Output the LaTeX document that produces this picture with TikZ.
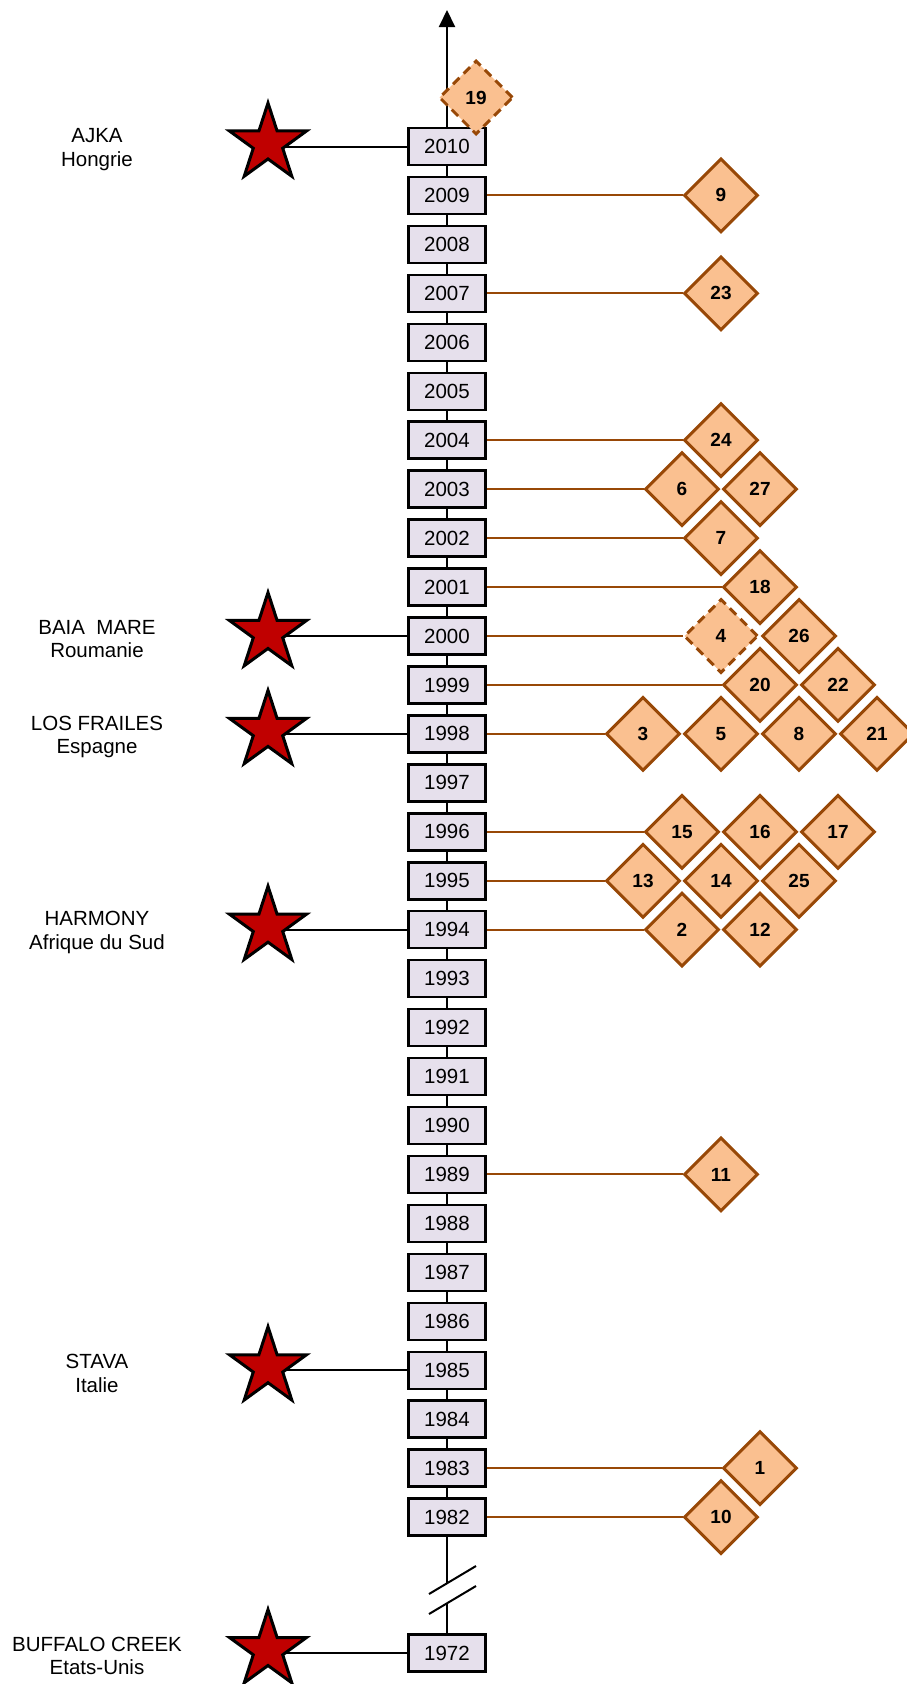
\documentclass[tikz,border=0pt]{standalone}
\usepackage{fontspec}
\setmainfont{Liberation Sans}
\usepackage{tikz}
\usetikzlibrary{shapes.geometric,arrows.meta,positioning,calc,backgrounds}
\definecolor{SoftLilac}{HTML}{E6E0EC}
\definecolor{StarRed}{HTML}{C00000}
\definecolor{SoftOrange}{HTML}{FAC090}
\definecolor{DarkOrange}{HTML}{984807}
\tikzset{
  % Year box
  YB/.style={rectangle,draw=black,line width=2.5pt,fill=SoftLilac,
             minimum width=77pt,minimum height=37pt,inner sep=0pt,
             font=\fontsize{20.5}{24}\selectfont},
  % Case diamond
  CD/.style={diamond,aspect=1,draw=DarkOrange,line width=3pt,fill=SoftOrange,
             minimum width=74pt,minimum height=74pt,inner sep=0pt,
             font=\fontsize{19}{22}\selectfont\bfseries},
  CDd/.style={CD,dash pattern=on 9pt off 6pt},
  % Star
  ST/.style={star,star points=5,star point ratio=2.618,draw=black,line width=3pt,
             fill=StarRed,minimum size=81pt,inner sep=0pt},
  % Place label
  LB/.style={align=center,font=\fontsize{20.5}{23.5}\selectfont},
  % Lines
  ax/.style={line width=2pt,black},
  arr/.style={ax,-{Triangle[length=17pt,width=16pt]}},
  lnK/.style={line width=2pt,black},
  lnB/.style={line width=2pt,DarkOrange}
}

\begin{document}
\begin{tikzpicture}[x=1pt,y=-1pt]
  \useasboundingbox (0,0) rectangle (906,1684);

  % years
  \foreach \yr in {1982,...,2010}
    \node[YB] (y\yr) at (447,{146.5+(2010-\yr)*48.95}) {\yr};
  \node[YB] (y1972) at (447,1653) {1972};

  \coordinate (top)  at (447,10);
  \coordinate (brkA) at (447,1583);
  \coordinate (brkB) at (447,1603);
  \coordinate (sc)   at (268,0);
  \coordinate (lc)   at (97,0);
  \foreach \k in {0,...,6}
    \coordinate (c\k) at ({643+39*\k},0);

  % cases
  \node[CDd] (n19) at (476,97.5)      {19};
  \node[CD]  (n9)  at (c2 |- y2009)   {9};
  \node[CD]  (n23) at (c2 |- y2007)   {23};
  \node[CD]  (n24) at (c2 |- y2004)   {24};
  \node[CD]  (n6)  at (c1 |- y2003)   {6};
  \node[CD]  (n27) at (c3 |- y2003)   {27};
  \node[CD]  (n7)  at (c2 |- y2002)   {7};
  \node[CD]  (n18) at (c3 |- y2001)   {18};
  \node[CDd] (n4)  at (c2 |- y2000)   {4};
  \node[CD]  (n26) at (c4 |- y2000)   {26};
  \node[CD]  (n20) at (c3 |- y1999)   {20};
  \node[CD]  (n22) at (c5 |- y1999)   {22};
  \node[CD]  (n3)  at (c0 |- y1998)   {3};
  \node[CD]  (n5)  at (c2 |- y1998)   {5};
  \node[CD]  (n8)  at (c4 |- y1998)   {8};
  \node[CD]  (n21) at (c6 |- y1998)   {21};
  \node[CD]  (n15) at (c1 |- y1996)   {15};
  \node[CD]  (n16) at (c3 |- y1996)   {16};
  \node[CD]  (n17) at (c5 |- y1996)   {17};
  \node[CD]  (n13) at (c0 |- y1995)   {13};
  \node[CD]  (n14) at (c2 |- y1995)   {14};
  \node[CD]  (n25) at (c4 |- y1995)   {25};
  \node[CD]  (n2)  at (c1 |- y1994)   {2};
  \node[CD]  (n12) at (c3 |- y1994)   {12};
  \node[CD]  (n11) at (c2 |- y1989)   {11};
  \node[CD]  (n1)  at (c3 |- y1983)   {1};
  \node[CD]  (n10) at (c2 |- y1982)   {10};

  % disasters
  \foreach \yr/\name/\place in {2010/AJKA/Hongrie,2000/BAIA\ \ MARE/Roumanie,
      1998/LOS FRAILES/Espagne,1994/HARMONY/Afrique du Sud,
      1985/STAVA/Italie,1972/BUFFALO CREEK/Etats-Unis}{
    \path (sc |- y\yr) ++(0,-3) node[ST] (s\yr) {};
    \path (lc |- y\yr) ++(0,3) node[LB] (l\yr) {\name\\\place};
  }

  \begin{scope}[on background layer]
    \draw[ax](y1982.south) -- (y2010.north);
    \draw[arr](y2010.north) -- (top);
    \draw[ax](y1982.south) -- (brkA);
    \draw[ax](brkB) -- (y1972.north);
    \draw[ax]($(brkA)+(-18,11)$) -- ($(brkA)+(29,-17)$);
    \draw[ax]($(brkB)+(-18,11)$) -- ($(brkB)+(29,-17)$);
    \foreach \yr in {2010,2000,1998,1994,1985,1972}
      \draw[lnK](y\yr.west) -- (y\yr.west -| s\yr.center);
    \foreach \yr/\n in {2009/9,2007/23,2004/24,2003/6,2002/7,2001/18,2000/4,
        1999/20,1998/3,1996/15,1995/13,1994/2,1989/11,1983/1,1982/10}
      \draw[lnB](y\yr.east) -- (n\n.west);
  \end{scope}
\end{tikzpicture}
\end{document}
